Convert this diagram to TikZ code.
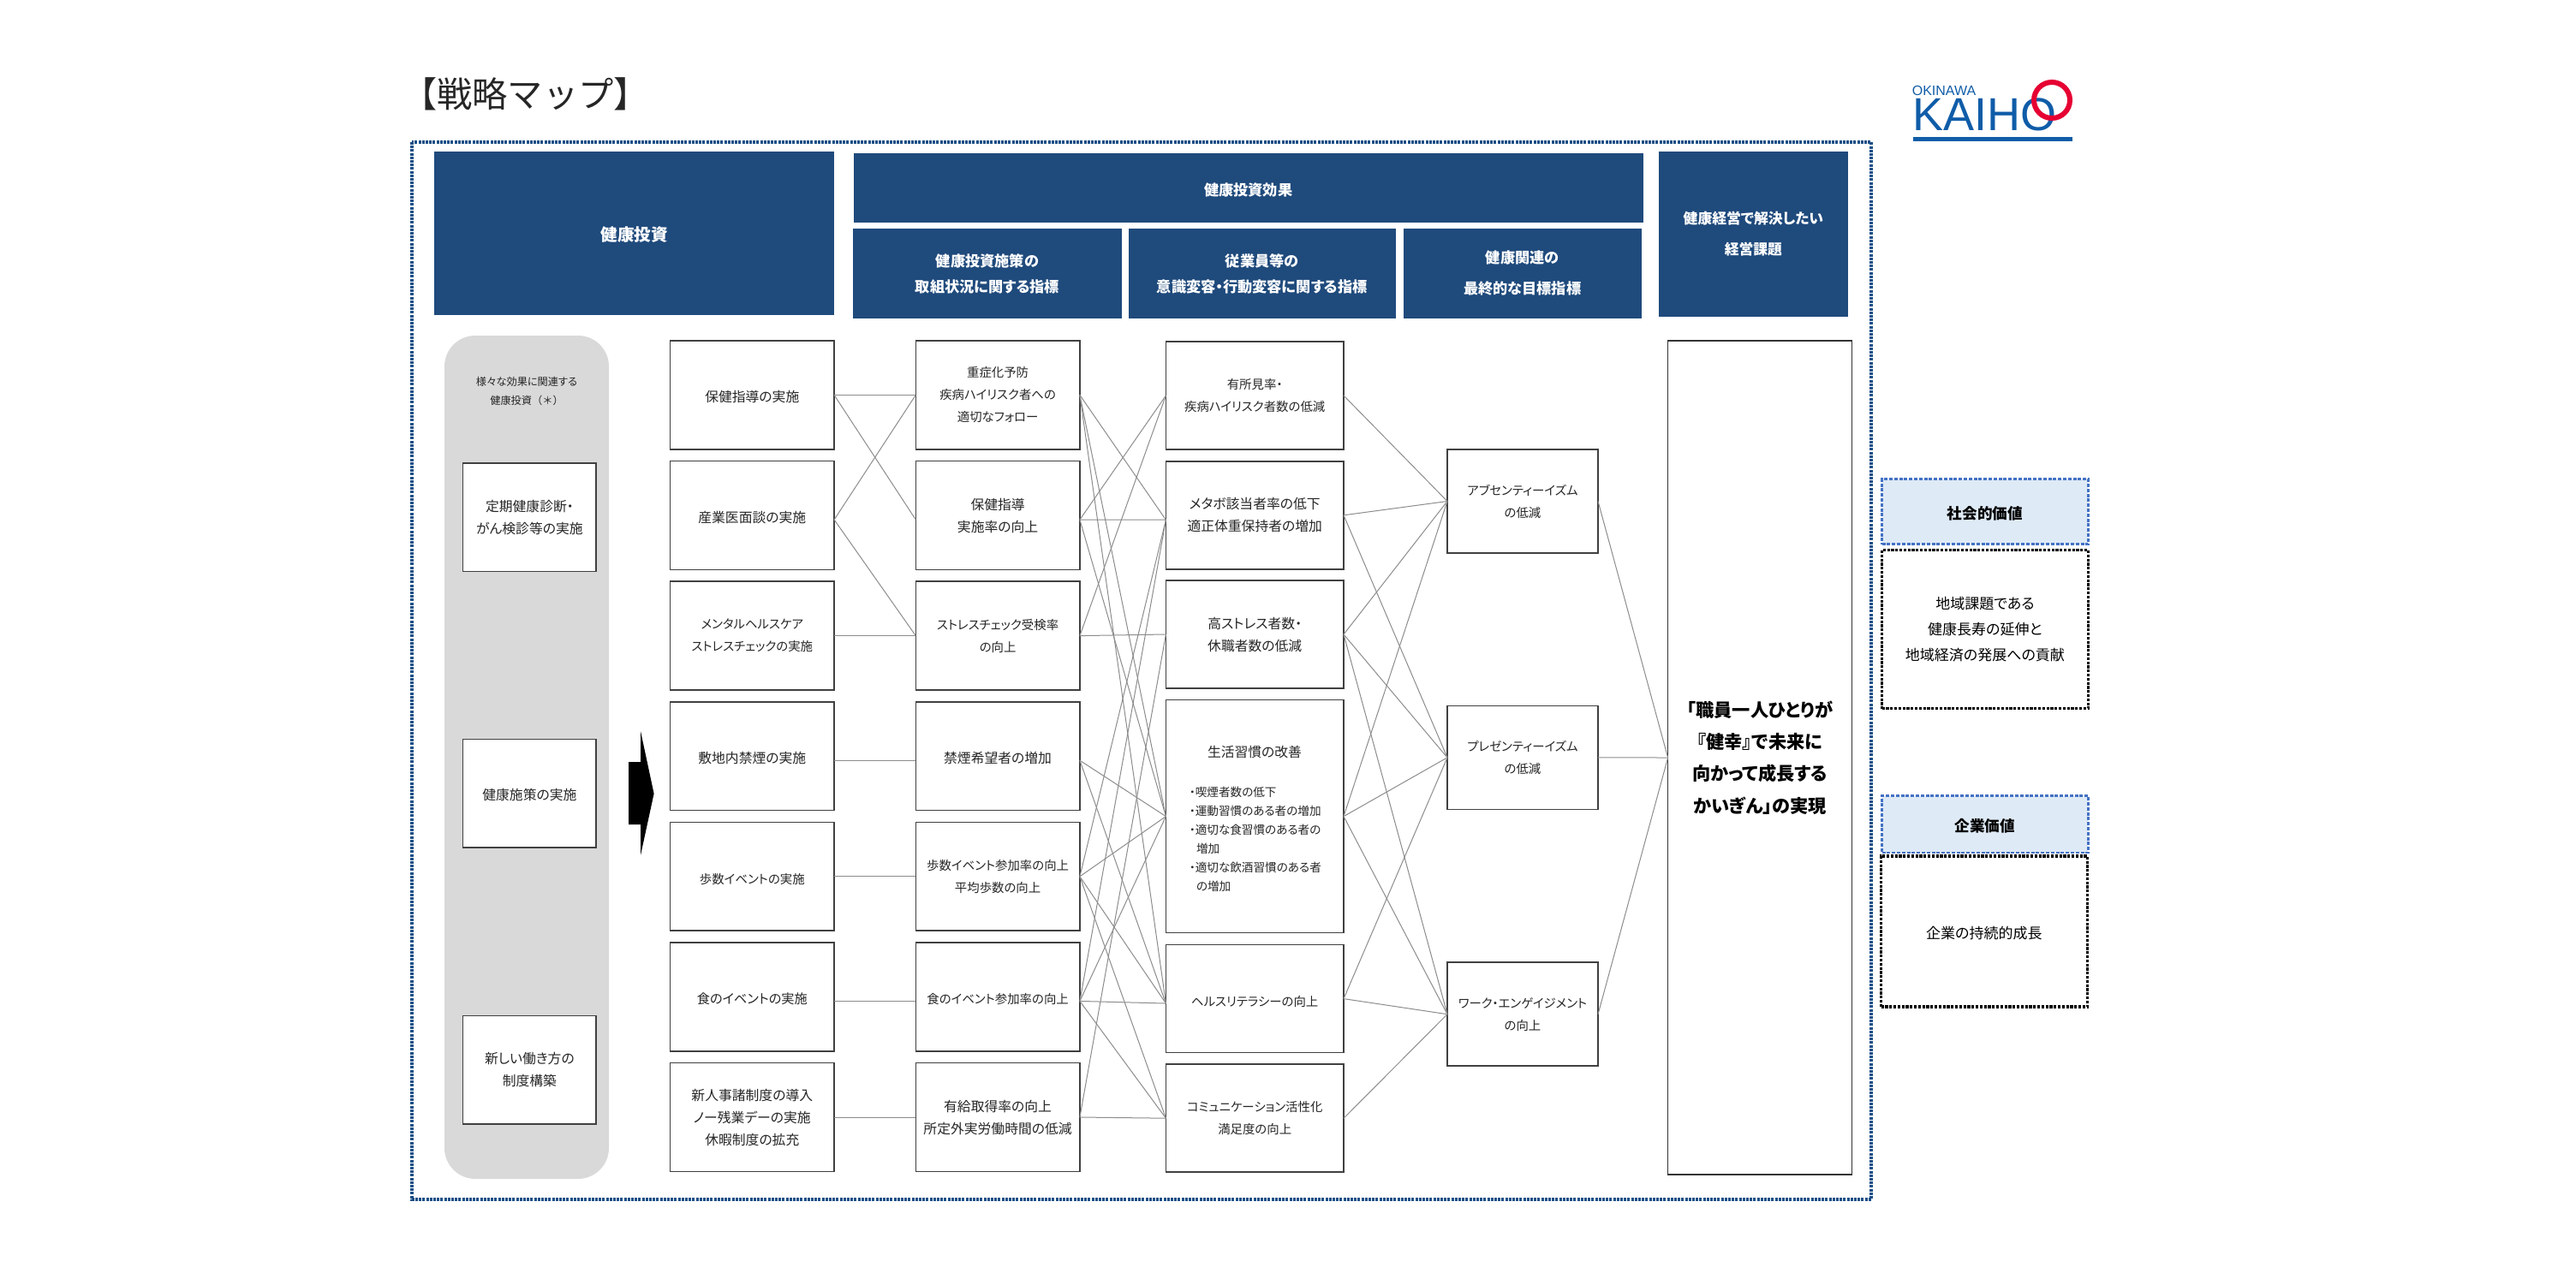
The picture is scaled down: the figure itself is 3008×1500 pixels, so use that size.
\documentclass[tikz,border=0pt]{standalone}
\usepackage{fontspec}
\setmainfont{Noto Sans CJK JP}[RawFeature=+palt]
\newfontfamily\titlefont{Noto Sans CJK JP}
\newfontfamily\logofont{Liberation Sans}
\usepackage{tikz}
\usetikzlibrary{positioning}
\definecolor{headblue}{HTML}{1F4A7C}
\definecolor{framedot}{HTML}{1B4F86}
\definecolor{valuefill}{HTML}{DEEAF6}
\definecolor{valuedot}{HTML}{4472C4}
\definecolor{panelgray}{HTML}{D9D9D9}
\definecolor{logoblue}{HTML}{0F5CA8}
\definecolor{logored}{HTML}{E60033}
\tikzset{
    raw box/.style={rectangle, inner sep=0pt, outer sep=0pt, align=center},
    text strut/.style={execute at begin node=\rule{0pt}{#1}},
    header/.style={raw box, text strut=5pt, fill=headblue, text=white, anchor=north west, font=\bfseries\fontsize{4.3}{7.5}\selectfont},
    action/.style={raw box, text strut=4.5pt, draw=black!75, line width=.38pt, fill=white, text=black!85, minimum width=47.9pt, minimum height=31.7pt, font=\fontsize{3.95}{6.5}\selectfont},
    kana/.style={font=\fontsize{3.6}{6.5}\selectfont},
    outcome/.style={action, minimum width=51.9pt, minimum height=31.5pt},
    target/.style={action, kana, minimum width=44pt, minimum height=30.25pt},
    inner item/.style={action, minimum width=38.9pt, minimum height=31.6pt},
    value head/.style={raw box, text strut=5pt, fill=valuefill, draw=valuedot, line width=.7pt, dash pattern=on 1pt off .45pt, anchor=north west, minimum width=60.2pt, font=\bfseries\fontsize{4.4}{7.4}\selectfont},
    value body/.style={raw box, text strut=4.8pt, draw=black, line width=.8pt, dash pattern=on .8pt off .4pt, anchor=north west, minimum width=60.2pt, font=\fontsize{4.25}{7.4}\selectfont},
    link/.style={draw=black!45, line width=.25pt}
}
\begin{document}
\begin{tikzpicture}[x=.25pt,y=-.25pt]
	\useasboundingbox (0,0) rectangle (3008,1500);
	\node[raw box, font=\titlefont\fontsize{10.3}{12}\selectfont, text=black!85] (nodeTitle) at (613.5,110) {【戦略マップ】};
	\draw[framedot, line width=.8pt, dash pattern=on .75pt off .3pt] (481,166) rectangle (2185,1401);

	\node[header, minimum width=116.6pt, minimum height=47.75pt, font=\bfseries\fontsize{4.9}{7.5}\selectfont] (nodeInvest) at (507.4,177) {健康投資};
	\node[header, minimum width=230.6pt, minimum height=20.25pt] (nodeEffect) at (996.5,179) {健康投資効果};
	\node[header, minimum width=78.5pt, minimum height=26.25pt] (nodeEffectA) at (996,267) {健康投資施策の\\取組状況に関する指標};
	\node[header, minimum width=78.1pt, minimum height=26.25pt] (nodeEffectB) at (1317.5,267) {従業員等の\\意識変容・行動変容に関する指標};
	\node[header, minimum width=69.6pt, minimum height=26.25pt, font=\bfseries\fontsize{4.3}{9}\selectfont] (nodeEffectC) at (1638.5,267) {健康関連の\\最終的な目標指標};
	\node[header, minimum width=55.2pt, minimum height=48.25pt, font=\bfseries\fontsize{4.2}{9}\selectfont] (nodeIssue) at (1937,177) {健康経営で解決したい\\経営課題};

	\node[raw box, fill=panelgray, rounded corners=9pt, anchor=north west, minimum width=48pt, minimum height=246.25pt] (nodePanel) at (519,392) {};
	\node[raw box, text=black!85, font=\fontsize{3.05}{5.5}\selectfont] (nodePanelText) at (615,457) {様々な効果に関連する\\健康投資{\titlefont（＊）}};
	\node[inner item, anchor=north west] (nodeCheckup) at (540.6,541) {定期健康診断・\\がん検診等の実施};
	\node[inner item, below=49pt of nodeCheckup] (nodeMeasure) {健康施策の実施};
	\node[inner item, below=49.2pt of nodeMeasure] (nodeWorkstyle) {新しい働き方の\\制度構築};

	\fill[black] (734,890) -- (748,890) -- (748,854) -- (763.6,927) -- (748,999) -- (748,963) -- (734,963) -- cycle;

	\node[action, anchor=north west] (nodeGuidance) at (782.5,398) {保健指導の実施};
	\node[action, below=3.45pt of nodeGuidance] (nodeInterview) {産業医面談の実施};
	\node[action, kana, below=3.45pt of nodeInterview] (nodeMental) {メンタルヘルスケア\\ストレスチェックの実施};
	\node[action, below=3.45pt of nodeMental] (nodeSmokeFree) {敷地内禁煙の実施};
	\node[action, kana, below=3.45pt of nodeSmokeFree] (nodeWalk) {歩数イベントの実施};
	\node[action, below=3.45pt of nodeWalk, font=\fontsize{3.8}{6.5}\selectfont] (nodeFood) {食のイベントの実施};
	\node[action, below=3.45pt of nodeFood] (nodeSystem) {新人事諸制度の導入\\ノー残業デーの実施\\休暇制度の拡充};

	\node[action, kana, right=23.8pt of nodeGuidance] (nodeFollow) {重症化予防\\疾病ハイリスク者への\\適切なフォロー};
	\node[action, right=23.8pt of nodeInterview] (nodeGuideRate) {保健指導\\実施率の向上};
	\node[action, kana, right=23.8pt of nodeMental] (nodeStressRate) {ストレスチェック受検率\\の向上};
	\node[action, right=23.8pt of nodeSmokeFree] (nodeQuit) {禁煙希望者の増加};
	\node[action, kana, right=23.8pt of nodeWalk] (nodeWalkRate) {歩数イベント参加率の向上\\平均歩数の向上};
	\node[action, kana, right=23.8pt of nodeFood] (nodeFoodRate) {食のイベント参加率の向上};
	\node[action, right=23.8pt of nodeSystem] (nodeLeave) {有給取得率の向上\\所定外実労働時間の低減};

	\node[outcome, kana, anchor=north west] (nodeRisk) at (1361.4,399) {有所見率・\\疾病ハイリスク者数の低減};
	\node[outcome, below=3.45pt of nodeRisk] (nodeMetabo) {メタボ該当者率の低下\\適正体重保持者の増加};
	\node[outcome, below=3.3pt of nodeMetabo] (nodeStress) {高ストレス者数・\\休職者数の低減};
	\node[outcome, below=3.4pt of nodeStress, minimum height=68pt] (nodeHabit) {};
	\node[raw box, text=black!85, font=\fontsize{3.95}{6.5}\selectfont] (nodeHabitHead) at (1465,878) {生活習慣の改善};
	\node[raw box, text=black!85, anchor=north west, align=left, font=\fontsize{3.4}{5.5}\selectfont] (nodeHabitList) at (1389,919) {・喫煙者数の低下\\・運動習慣のある者の増加\\・適切な食習慣のある者の\\\hspace*{2pt}増加\\・適切な飲酒習慣のある者\\\hspace*{2pt}の増加};
	\node[outcome, kana, below=3.5pt of nodeHabit] (nodeLiteracy) {ヘルスリテラシーの向上};
	\node[outcome, kana, below=3.4pt of nodeLiteracy] (nodeComm) {コミュニケーション活性化\\満足度の向上};

	\node[target, anchor=north west] (nodeAbsent) at (1690,525) {アブセンティーイズム\\の低減};
	\node[target, below=44.6pt of nodeAbsent] (nodePresent) {プレゼンティーイズム\\の低減};
	\node[target, below=44.7pt of nodePresent] (nodeEngage) {ワーク・エンゲイジメント\\の向上};

	\node[raw box, text strut=5.7pt, draw=black!80, line width=.3pt, anchor=north west, minimum width=53.7pt, minimum height=243.5pt, font=\bfseries\fontsize{5.3}{9.3}\selectfont] (nodeGoal) at (1947.6,398) {「職員一人ひとりが\\『健幸』で未来に\\向かって成長する\\かいぎん」の実現};

	\node[value head, minimum height=19pt] (nodeSocial) at (2197.5,559.5) {社会的価値};
	\node[value body, minimum height=46.3pt] (nodeSocialBody) at (2197.5,642.5) {地域課題である\\健康長寿の延伸と\\地域経済の発展への貢献};
	\node[value head, minimum height=16.6pt] (nodeCorp) at (2197.5,929.5) {企業価値};
	\node[value body, minimum height=44pt] (nodeCorpBody) at (2196.5,1000) {企業の持続的成長};

	\node[raw box, text=logoblue, font=\logofont\fontsize{4}{5}\selectfont] (nodeLogoTop) at (2270,106) {OKINAWA};
	\node[raw box, text=logoblue, font=\logofont\fontsize{13.5}{14}\selectfont] (nodeLogo) at (2317,134) {KAIHO};
	\draw[logored, line width=1.5pt] (2396,117) circle (21);
	\fill[logoblue] (2234,159.5) rectangle (2420,164.6);

	\draw[link] (nodeGuidance.east) -- (nodeFollow.west);
	\draw[link] (nodeGuidance.east) -- (nodeGuideRate.183);
	\draw[link] (nodeInterview.-3) -- (nodeFollow.west);
	\draw[link] (nodeInterview.-3) -- (nodeStressRate.west);
	\draw[link] (nodeMental.east) -- (nodeStressRate.west);
	\draw[link] (nodeSmokeFree.-3) -- (nodeQuit.183);
	\draw[link] (nodeWalk.east) -- (nodeWalkRate.west);
	\draw[link] (nodeFood.-3) -- (nodeFoodRate.183);
	\draw[link] (nodeSystem.east) -- (nodeLeave.west);

	\draw[link] (nodeFollow.east) -- (nodeMetabo.183);
	\draw[link] (nodeFollow.east) -- (nodeHabit.west);
	\draw[link] (nodeFollow.east) -- (nodeLiteracy.183);
	\draw[link] (nodeGuideRate.-3) -- (nodeRisk.west);
	\draw[link] (nodeGuideRate.-3) -- (nodeMetabo.183);
	\draw[link] (nodeGuideRate.-3) -- (nodeHabit.west);
	\draw[link] (nodeStressRate.east) -- (nodeRisk.west);
	\draw[link] (nodeStressRate.east) -- (nodeStress.west);
	\draw[link] (nodeQuit.-3) -- (nodeHabit.west);
	\draw[link] (nodeQuit.-3) -- (nodeLiteracy.183);
	\draw[link] (nodeWalkRate.east) -- (nodeMetabo.183);
	\draw[link] (nodeWalkRate.east) -- (nodeHabit.west);
	\draw[link] (nodeWalkRate.east) -- (nodeLiteracy.183);
	\draw[link] (nodeWalkRate.east) -- (nodeComm.west);
	\draw[link] (nodeFoodRate.-3) -- (nodeMetabo.183);
	\draw[link] (nodeFoodRate.-3) -- (nodeHabit.west);
	\draw[link] (nodeFoodRate.-3) -- (nodeLiteracy.183);
	\draw[link] (nodeFoodRate.-3) -- (nodeComm.west);
	\draw[link] (nodeLeave.east) -- (nodeStress.west);
	\draw[link] (nodeLeave.east) -- (nodeComm.west);

	\draw[link] (nodeRisk.east) -- (nodeAbsent.west);
	\draw[link] (nodeMetabo.east) -- (nodeAbsent.west);
	\draw[link] (nodeMetabo.east) -- (nodePresent.west);
	\draw[link] (nodeStress.east) -- (nodeAbsent.west);
	\draw[link] (nodeStress.east) -- (nodePresent.west);
	\draw[link] (nodeStress.east) -- (nodeEngage.west);
	\draw[link] (nodeHabit.east) -- (nodeAbsent.west);
	\draw[link] (nodeHabit.east) -- (nodePresent.west);
	\draw[link] (nodeHabit.east) -- (nodeEngage.west);
	\draw[link] (nodeLiteracy.east) -- (nodePresent.west);
	\draw[link] (nodeLiteracy.east) -- (nodeEngage.west);
	\draw[link] (nodeComm.east) -- (nodeEngage.west);

	\draw[link] (nodeAbsent.east) -- (nodeGoal.west);
	\draw[link] (nodePresent.east) -- (nodeGoal.west);
	\draw[link] (nodeEngage.east) -- (nodeGoal.west);
\end{tikzpicture}
\end{document}
